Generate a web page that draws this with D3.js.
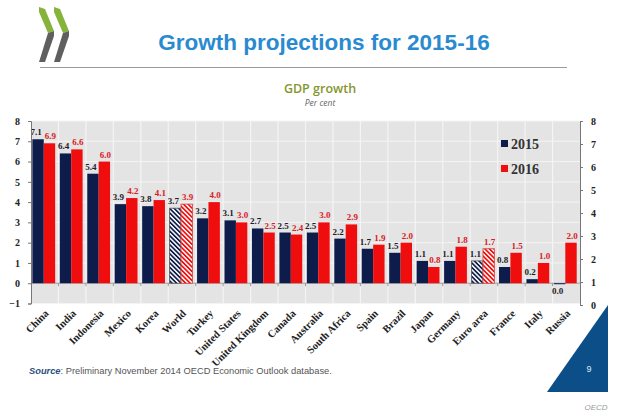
<!DOCTYPE html>
<html>
<head>
<meta charset="utf-8">
<script src="https://cdn.jsdelivr.net/npm/d3@7/dist/d3.min.js"></script>
<style>
  html, body { margin: 0; padding: 0; background: #fff; }
  svg { display: block; }
</style>
</head>
<body>
<svg id="chart" width="620" height="413"></svg>
<script>
// ── DATA ─────────────────────────────────────────────────────────────────────
const countries = ['China','India','Indonesia','Mexico','Korea','World','Turkey','United States',
  'United Kingdom','Canada','Australia','South Africa','Spain','Brazil','Japan','Germany',
  'Euro area','France','Italy','Russia'];
const growth2015 = [7.1, 6.4, 5.4, 3.9, 3.8, 3.7, 3.2, 3.1, 2.7, 2.5, 2.5, 2.2, 1.7, 1.5, 1.1, 1.1, 1.1, 0.8, 0.2, 0.0];
const growth2016 = [6.9, 6.6, 6.0, 4.2, 4.1, 3.9, 4.0, 3.0, 2.5, 2.4, 3.0, 2.9, 1.9, 2.0, 0.8, 1.8, 1.7, 1.5, 1.0, 2.0];
const aggregates = ['World', 'Euro area'];
const leftTicks = [-1, 0, 1, 2, 3, 4, 5, 6, 7, 8];
const rightTicks = [0, 1, 2, 3, 4, 5, 6, 7, 8];
const years = ['2015', '2016'];

// ── COLOURS ──────────────────────────────────────────────────────────────────
const navy = '#0e1c4c', red = '#f00d0d';
const colors = { '2015': navy, '2016': red };
const labelColors = { '2015': '#1d1d2a', '2016': '#d8211f' };

// ── SETUP ────────────────────────────────────────────────────────────────────
const svg = d3.select('#chart');
const defs = svg.append('defs');
const plot = { left: 31, right: 580, top: 121, bottom: 303.5 };

years.forEach(yr => {
  const p = defs.append('pattern').attr('id', 'hatch' + yr)
    .attr('patternUnits', 'userSpaceOnUse').attr('width', 3.2).attr('height', 3.2)
    .attr('patternTransform', 'rotate(-45)');
  p.append('rect').attr('width', 3.2).attr('height', 3.2).attr('fill', '#fff');
  p.append('rect').attr('width', 1.7).attr('height', 3.2).attr('fill', colors[yr]);
});

// header: logo, title, rule
const green = '#86b43a', grey = '#5f5f5f';
[0, 15].forEach(dx => {
  svg.append('polygon').attr('fill', green)
    .attr('points', [[39,7],[45,9],[54,31],[48,33],[39,12]].map(p => [p[0] + dx, p[1]]).join(' '));
  svg.append('polygon').attr('fill', grey)
    .attr('points', [[48,33],[54,31],[54,36],[45,62],[39,62]].map(p => [p[0] + dx, p[1]]).join(' '));
});
svg.append('text').attr('x', 324).attr('y', 50).attr('text-anchor', 'middle')
  .attr('font-family', 'Liberation Sans, Arial, sans-serif').attr('font-weight', 700)
  .attr('font-size', 22.5).attr('fill', '#2a8ad0').text('Growth projections for 2015-16');
svg.append('line').attr('x1', 40).attr('x2', 567).attr('y1', 67.5).attr('y2', 67.5)
  .attr('stroke', '#9a9a9a').attr('stroke-width', 1.2);

svg.append('text').attr('x', 320).attr('y', 93).attr('text-anchor', 'middle')
  .attr('font-family', 'Open Sans, sans-serif').attr('font-weight', 600)
  .attr('font-size', 12.5).attr('fill', '#84962f').text('GDP growth');
svg.append('text').attr('x', 320).attr('y', 106).attr('text-anchor', 'middle')
  .attr('font-family', 'Open Sans, sans-serif').attr('font-style', 'italic')
  .attr('font-size', 8.5).attr('fill', '#666').text('Per cent');

// ── SCALES ───────────────────────────────────────────────────────────────────
const x = d3.scaleBand().domain(countries).range([plot.left, plot.right]).padding(0);
const xs = d3.scaleBand().domain(years).range([x.bandwidth() * 0.05, x.bandwidth() * 0.88]).padding(0);
const y = d3.scaleLinear().domain([-1, 8]).range([plot.bottom, plot.top]);
const yR = d3.scaleLinear().domain([0, 8]).range([plot.bottom + 1.5, plot.top]);

// background + grid
svg.append('rect').attr('x', plot.left).attr('y', plot.top)
  .attr('width', plot.right - plot.left).attr('height', plot.bottom - plot.top).attr('fill', '#e4e4e4');
svg.append('g').selectAll('line').data(leftTicks).join('line')
  .attr('x1', plot.left).attr('x2', plot.right).attr('y1', d => y(d)).attr('y2', d => y(d))
  .attr('stroke', '#f4f4f4').attr('stroke-width', 1);
svg.append('g').selectAll('line').data(countries.slice(1)).join('line')
  .attr('x1', d => x(d)).attr('x2', d => x(d)).attr('y1', plot.top).attr('y2', plot.bottom)
  .attr('stroke', '#f4f4f4').attr('stroke-width', 1.2);

// zero line with category ticks
svg.append('line').attr('x1', plot.left).attr('x2', plot.right).attr('y1', y(0)).attr('y2', y(0))
  .attr('stroke', '#9a9a9a').attr('stroke-width', 1);
svg.append('g').selectAll('line').data(countries.slice(1)).join('line')
  .attr('x1', d => x(d)).attr('x2', d => x(d)).attr('y1', y(0)).attr('y2', y(0) + 3)
  .attr('stroke', '#9a9a9a');

// ── BARS ─────────────────────────────────────────────────────────────────────
const rows = countries.map((c, i) => ({ c, vals: { '2015': growth2015[i], '2016': growth2016[i] } }));
const groups = svg.append('g').selectAll('g').data(rows).join('g')
  .attr('transform', d => `translate(${x(d.c)},0)`);

years.forEach(yr => {
  groups.append('rect')
    .attr('x', xs(yr)).attr('width', xs.bandwidth())
    .attr('y', d => y(Math.max(0, d.vals[yr])))
    .attr('height', d => Math.max(Math.abs(y(d.vals[yr]) - y(0)), 1))
    .attr('fill', d => aggregates.includes(d.c) ? `url(#hatch${yr})` : colors[yr])
    .attr('stroke', d => aggregates.includes(d.c) ? (yr === '2015' ? '#555' : '#c44') : 'none')
    .attr('stroke-width', 0.8);

  groups.append('text')
    .attr('x', xs(yr) + xs.bandwidth() / 2 + (yr === '2015' ? -2 : 1))
    .attr('y', d => d.vals[yr] > 0 ? y(d.vals[yr]) - 4 : y(0) + 11)
    .attr('text-anchor', 'middle')
    .attr('font-family', 'Liberation Serif, serif').attr('font-weight', 700)
    .attr('font-size', 9).attr('fill', labelColors[yr])
    .text(d => d.vals[yr].toFixed(1));
});

// ── AXES ─────────────────────────────────────────────────────────────────────
function styleAxis(g) {
  g.select('.domain').attr('stroke', '#777');
  g.selectAll('.tick line').attr('stroke', '#777');
  g.selectAll('.tick text').attr('font-family', 'Liberation Serif, serif')
    .attr('font-weight', 700).attr('font-size', 10).attr('fill', '#222');
}
svg.append('g').attr('transform', `translate(${plot.left},0)`)
  .call(d3.axisLeft(y).tickValues(leftTicks).tickSize(3).tickSizeOuter(3).tickPadding(8))
  .call(styleAxis);
svg.append('g').attr('transform', `translate(${plot.right},0)`)
  .call(d3.axisRight(yR).tickValues(rightTicks).tickSize(3).tickSizeOuter(3).tickPadding(8))
  .call(styleAxis);

// category labels
svg.append('g').selectAll('text').data(countries).join('text')
  .attr('transform', d => `translate(${x(d) + x.bandwidth() / 2 + 2},${plot.bottom + 8}) rotate(-45)`)
  .attr('text-anchor', 'end').attr('dy', '0.35em')
  .attr('font-family', 'Liberation Serif, serif').attr('font-weight', 700)
  .attr('font-size', 10.5).attr('fill', '#222')
  .text(d => d);

// ── LEGEND ───────────────────────────────────────────────────────────────────
const legend = svg.append('g').selectAll('g').data(years).join('g')
  .attr('transform', (d, i) => `translate(501,${140 + i * 25})`);
legend.append('rect').attr('width', 7).attr('height', 7).attr('fill', d => colors[d]);
legend.append('text').attr('x', 10).attr('y', 8.5)
  .attr('font-family', 'Liberation Serif, serif').attr('font-weight', 700)
  .attr('font-size', 14).attr('fill', '#333').text(d => d);

// ── FOOTER ───────────────────────────────────────────────────────────────────
const src = svg.append('text').attr('x', 29).attr('y', 374)
  .attr('font-family', 'Liberation Sans, Arial, sans-serif').attr('font-size', 9.3).attr('fill', '#555');
src.append('tspan').attr('font-weight', 700).attr('font-style', 'italic').attr('fill', '#2c4f7c').text('Source');
src.append('tspan').text(': Preliminary November 2014 OECD Economic Outlook database.');

svg.append('polygon').attr('points', '547,392 608,392 608,305').attr('fill', '#0b4e88');
svg.append('text').attr('x', 589).attr('y', 372).attr('text-anchor', 'middle')
  .attr('font-family', 'Liberation Sans, Arial, sans-serif').attr('font-size', 9)
  .attr('fill', '#d6ecff').text('9');
svg.append('text').attr('x', 596).attr('y', 410).attr('text-anchor', 'middle')
  .attr('font-family', 'Liberation Sans, Arial, sans-serif').attr('font-style', 'italic')
  .attr('font-size', 8).attr('fill', '#9a9a9a').text('OECD');
</script>
</body>
</html>
